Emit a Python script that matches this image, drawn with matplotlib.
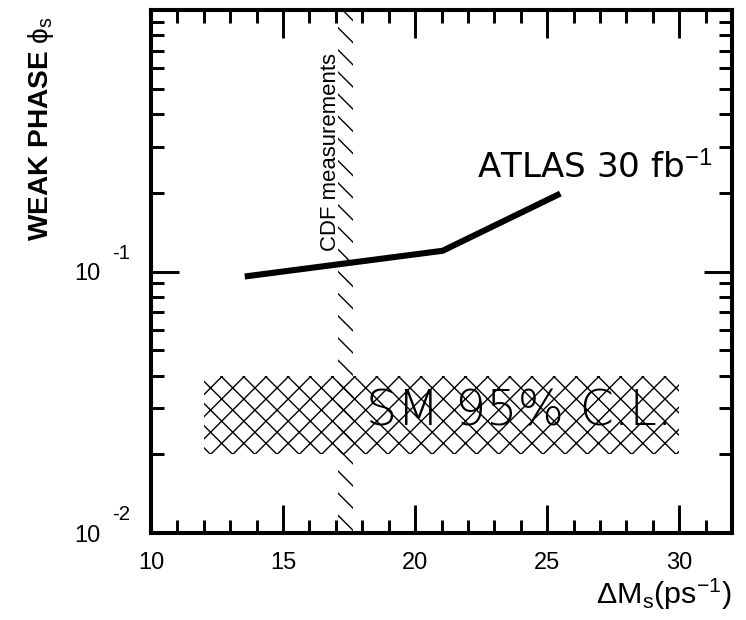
import numpy as np
import matplotlib
matplotlib.use("Agg")
import matplotlib.pyplot as plt
from matplotlib.ticker import LogLocator, NullFormatter, FixedLocator, MultipleLocator, FixedFormatter

plt.rcParams['font.family'] = ['Liberation Sans', 'DejaVu Sans']
plt.rcParams['mathtext.fontset'] = 'custom'
plt.rcParams['mathtext.rm'] = 'Liberation Sans'
plt.rcParams['mathtext.it'] = 'Liberation Sans'
plt.rcParams['hatch.linewidth'] = 0.75

# ATLAS 30 fb-1 sensitivity curve
atlas_dms = [13.55, 21.04, 25.5]
atlas_phi = [0.0957, 0.120, 0.1986]

# SM 95% C.L. band
sm_dms = [12.0, 30.0]
sm_phi = [0.02, 0.04]

# CDF measurement band
cdf_dms = [17.07, 17.64]

x_major = [10, 15, 20, 25, 30]
y_major = [0.01, 0.1, 1.0]
y_labels = ['10', '10', '']
y_exps = ['-2', '-1']

DPI = 133
fig = plt.figure(figsize=(746 / DPI, 620 / DPI), dpi=DPI)
ax = fig.add_axes([151 / 746, 1 - 533 / 620, 581 / 746, 523 / 620])

ax.set_yscale('log')
ax.set_xlim(10, 32)
ax.set_ylim(0.01, 1.0)

# SM band
ax.fill_between(sm_dms, sm_phi[0], sm_phi[1], facecolor='none', edgecolor='black',
                hatch='xx', linewidth=0)
ax.text(23.95, 0.0258, 'SM 95% C.L.', fontsize=26.5, family=['DejaVu Sans'],
        fontweight='light', ha='center', va='baseline')

# CDF band
ax.axvspan(cdf_dms[0], cdf_dms[1], facecolor='none', edgecolor='black', hatch='\\\\',
           linewidth=0)
ax.text(16.78, 0.287, 'CDF measurements', rotation=90, fontsize=12,
        ha='center', va='center')

# ATLAS curve
ax.plot(atlas_dms, atlas_phi, color='black', linewidth=3.3, solid_capstyle='butt')
ax.text(31.25, 0.2285, 'ATLAS 30 fb$^{-1}$', fontsize=18.5, family=['DejaVu Sans'],
        ha='right', va='baseline')

# ticks
ax.xaxis.set_major_locator(FixedLocator(x_major))
ax.xaxis.set_minor_locator(MultipleLocator(1))
ax.yaxis.set_major_locator(FixedLocator(y_major))
ax.yaxis.set_major_formatter(FixedFormatter(y_labels))
ax.yaxis.set_minor_locator(LogLocator(base=10, subs=np.arange(2, 10)))
ax.yaxis.set_minor_formatter(NullFormatter())

ax.tick_params(which='both', direction='in', top=True, right=True, width=1.6,
               labelsize=12.8, color='black')
ax.tick_params(which='major', length=15)
ax.tick_params(which='minor', length=7)
ax.tick_params(axis='x', which='major', pad=10.5)
ax.tick_params(axis='y', which='major', pad=27.5)

for s in ax.spines.values():
    s.set_linewidth(2.2)

for val, e in zip(y_major[:2], y_exps):
    ax.annotate(e, xy=(0, val), xycoords=('axes fraction', 'data'),
                xytext=(-39, 18), textcoords='offset pixels',
                fontsize=11, ha='left', va='center')

ax.set_ylabel('WEAK PHASE $\\phi_s$', fontsize=15.2, fontweight='bold')
ax.yaxis.set_label_coords(-0.163, 0.772)
ax.set_xlabel('$\\Delta$M$_{s}$(ps$^{-1}$)', fontsize=16.5, loc='right')
ax.xaxis.set_label_coords(1.0, -0.083)
ax.xaxis.label.set_va('top')

fig.savefig('out.png', dpi=DPI)
